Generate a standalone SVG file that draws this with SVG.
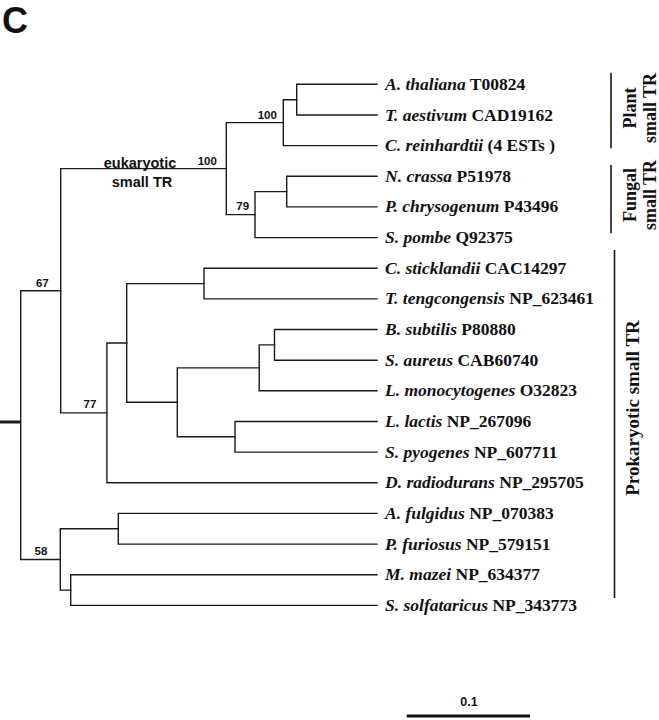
<svg xmlns="http://www.w3.org/2000/svg" width="659" height="720" viewBox="0 0 659 720">
<style>
.t{fill:none;stroke:#1a1a1a;stroke-width:1.4;stroke-linecap:square}
.lf{font-family:"Liberation Serif","Times New Roman",serif;font-weight:bold;font-size:17.5px;fill:#111}
.i{font-style:italic}
.bs{font-family:"Liberation Serif","Times New Roman",serif;font-weight:bold;font-size:18px;fill:#111;text-anchor:middle}
.n{font-family:"Liberation Sans",Arial,sans-serif;font-weight:bold;font-size:11.5px;fill:#111;text-anchor:middle}
.e{font-family:"Liberation Sans",Arial,sans-serif;font-weight:bold;font-size:14.5px;fill:#111;text-anchor:middle}
.br{stroke:#1a1a1a;stroke-width:1.6}
</style>
<text x="2" y="33" style="font-family:'Liberation Sans',Arial,sans-serif;font-weight:bold;font-size:36px;fill:#111">C</text>
<g id="connectors">
<path class="t" d="M20.7,290.8V559.5 M20.7,290.8H60.7 M20.7,559.5H60.3"/>
<path d="M0,422H20.7" stroke="#1a1a1a" stroke-width="3"/>
<path class="t" d="M60.7,168.6V412.9 M60.7,168.6H226.3 M60.7,412.9H106.9"/>
<path class="t" d="M226.3,122.6V214.6 M226.3,122.6H283.3 M226.3,214.6H255"/>
<path class="t" d="M283.3,99.7V145.6 M283.3,99.7H296.7 M283.3,145.6H377"/>
<path class="t" d="M296.7,84.3V115 M296.7,84.3H377 M296.7,115H377"/>
<path class="t" d="M255,191.6V237.6 M255,191.6H286.7 M255,237.6H377"/>
<path class="t" d="M286.7,176.3V206.9 M286.7,176.3H377 M286.7,206.9H377"/>
<path class="t" d="M106.9,343V482.8 M106.9,343H126.7 M106.9,482.8H377"/>
<path class="t" d="M126.7,283.6V402.3 M126.7,283.6H204 M126.7,402.3H177.3"/>
<path class="t" d="M204,268.2V298.9 M204,268.2H377 M204,298.9H377"/>
<path class="t" d="M177.3,367.9V436.8 M177.3,367.9H259.2 M177.3,436.8H235"/>
<path class="t" d="M259.2,344.9V390.8 M259.2,344.9H274.5 M259.2,390.8H377"/>
<path class="t" d="M274.5,329.5V360.2 M274.5,329.5H377 M274.5,360.2H377"/>
<path class="t" d="M235,421.5V452.1 M235,421.5H377 M235,452.1H377"/>
<path class="t" d="M60.3,528.8V590.1 M60.3,528.8H118.3 M60.3,590.1H70.7"/>
<path class="t" d="M118.3,513.4V544.1 M118.3,513.4H377 M118.3,544.1H377"/>
<path class="t" d="M70.7,574.7V605.4 M70.7,574.7H377 M70.7,605.4H377"/>
</g>
<g id="support">
<text class="n" x="267.3" y="118.5">100</text>
<text class="n" x="207.3" y="164.8">100</text>
<text class="n" x="242.7" y="209.8">79</text>
<text class="n" x="42.3" y="286.8">67</text>
<text class="n" x="90" y="408">77</text>
<text class="n" x="41" y="555">58</text>
<text class="e" x="140" y="167.5">eukaryotic</text>
<text class="e" x="142" y="186.5">small TR</text>
</g>
<g id="leaves">
<text id="l0" class="lf" x="385" y="89.8"><tspan class="i">A. thaliana</tspan> T00824</text>
<text id="l1" class="lf" x="385" y="120.5"><tspan class="i">T. aestivum</tspan> CAD19162</text>
<text id="l2" class="lf" x="385" y="151.1"><tspan class="i">C. reinhardtii</tspan> (4 ESTs )</text>
<text id="l3" class="lf" x="385" y="181.8"><tspan class="i">N. crassa</tspan> P51978</text>
<text id="l4" class="lf" x="385" y="212.4"><tspan class="i">P. chrysogenum</tspan> P43496</text>
<text id="l5" class="lf" x="385" y="243.1"><tspan class="i">S. pombe</tspan> Q92375</text>
<text id="l6" class="lf" x="385" y="273.7"><tspan class="i">C. sticklandii</tspan> CAC14297</text>
<text id="l7" class="lf" x="385" y="304.4"><tspan class="i">T. tengcongensis</tspan> NP_623461</text>
<text id="l8" class="lf" x="385" y="335"><tspan class="i">B. subtilis</tspan> P80880</text>
<text id="l9" class="lf" x="385" y="365.7"><tspan class="i">S. aureus</tspan> CAB60740</text>
<text id="l10" class="lf" x="385" y="396.3"><tspan class="i">L. monocytogenes</tspan> O32823</text>
<text id="l11" class="lf" x="385" y="427"><tspan class="i">L. lactis</tspan> NP_267096</text>
<text id="l12" class="lf" x="385" y="457.6"><tspan class="i">S. pyogenes</tspan> NP_607711</text>
<text id="l13" class="lf" x="385" y="488.3"><tspan class="i">D. radiodurans</tspan> NP_295705</text>
<text id="l14" class="lf" x="385" y="518.9"><tspan class="i">A. fulgidus</tspan> NP_070383</text>
<text id="l15" class="lf" x="385" y="549.6"><tspan class="i">P. furiosus</tspan> NP_579151</text>
<text id="l16" class="lf" x="385" y="580.2"><tspan class="i">M. mazei</tspan> NP_634377</text>
<text id="l17" class="lf" x="385" y="610.9"><tspan class="i">S. solfataricus</tspan> NP_343773</text>
</g>
<g id="groups">
<line class="br" x1="611" y1="72.7" x2="611" y2="148.3"/>
<text class="bs" transform="translate(636,108) rotate(-90)">Plant</text>
<text class="bs" transform="translate(656,108) rotate(-90)">small TR</text>
<line class="br" x1="611" y1="165" x2="611" y2="233.3"/>
<text class="bs" transform="translate(636,195) rotate(-90)">Fungal</text>
<text class="bs" transform="translate(656,195) rotate(-90)">small TR</text>
<line class="br" x1="614.5" y1="250" x2="614.5" y2="598"/>
<text class="bs" style="font-size:19px" transform="translate(639,408) rotate(-90)">Prokaryotic small TR</text>
</g>
<g id="scale">
<line x1="406.7" y1="716" x2="530" y2="716" stroke="#111" stroke-width="2.8"/>
<text class="n" style="font-size:12.5px" x="469" y="706">0.1</text>
</g>
</svg>
